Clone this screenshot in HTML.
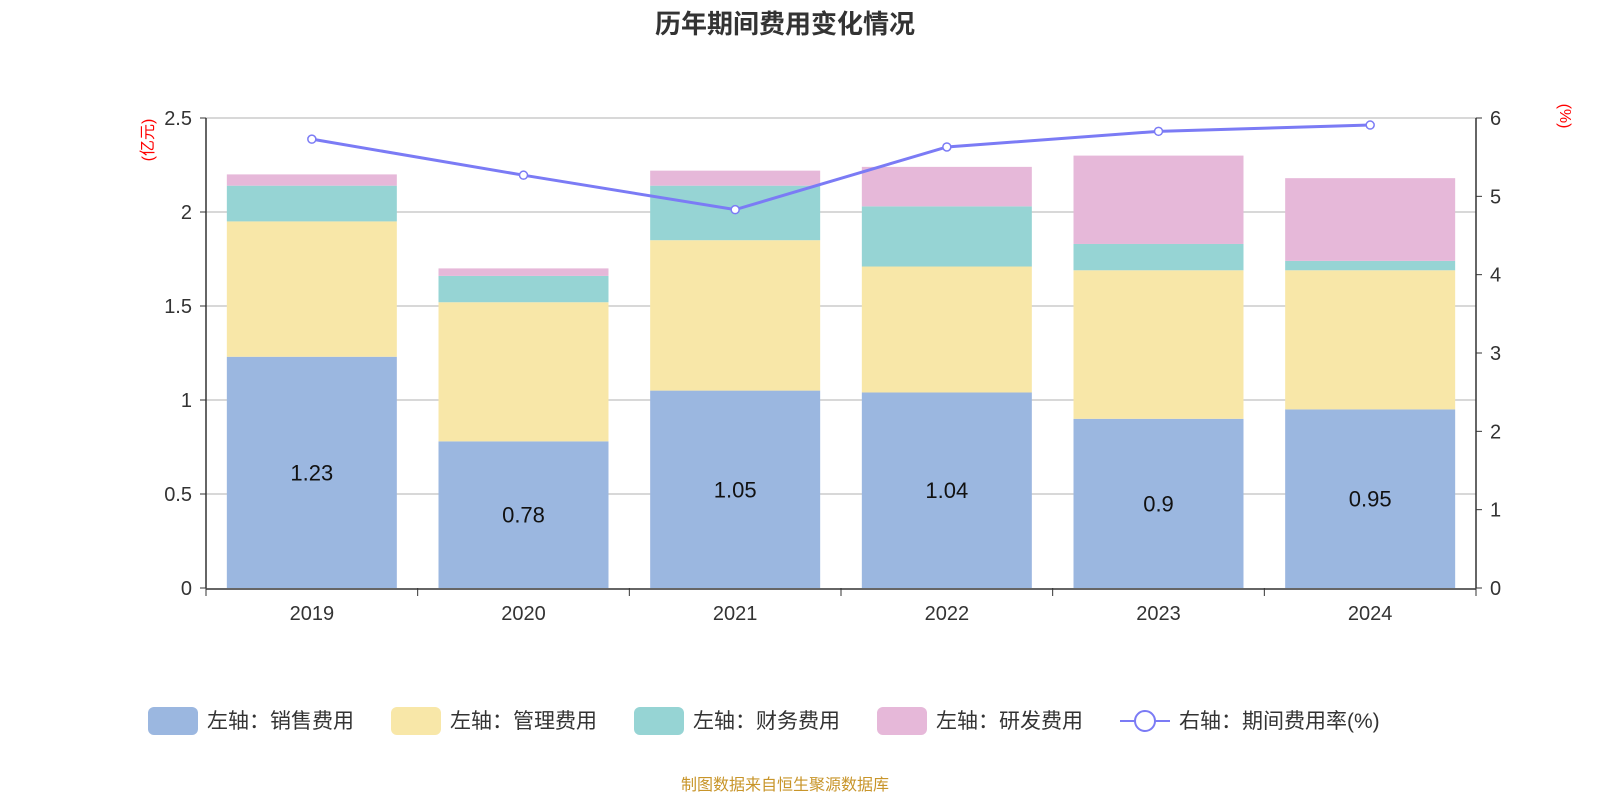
<!DOCTYPE html>
<html><head><meta charset="utf-8">
<style>
html,body{margin:0;padding:0;background:#fff;}
svg{display:block;font-family:"Liberation Sans","Noto Sans CJK SC",sans-serif;}
</style></head>
<body>
<svg id="chart" width="1600" height="800" viewBox="0 0 1600 800">
<text x="785" y="33" text-anchor="middle" font-size="26" font-weight="bold" fill="#333">历年期间费用变化情况</text>
<text transform="translate(153,140) rotate(-90)" text-anchor="middle" font-size="16" fill="red">(亿元)</text>
<text transform="translate(1560,116) rotate(90)" text-anchor="middle" font-size="16" fill="red">(%)</text>
<g id="grid"></g><g id="bars"></g><g id="axes"></g><g id="line"></g><g id="legend"></g>
<text x="785" y="790" text-anchor="middle" font-size="16" fill="#c8952a">制图数据来自恒生聚源数据库</text>
</svg>
<script>
const categories=["2019","2020","2021","2022","2023","2024"];
const sales=[1.23,0.78,1.05,1.04,0.9,0.95];
const admin=[0.72,0.74,0.80,0.67,0.79,0.74];
const finance=[0.19,0.14,0.29,0.32,0.14,0.05];
const rnd=[0.06,0.04,0.08,0.21,0.47,0.44];
const rate=[5.73,5.27,4.83,5.63,5.83,5.91];
const leftTicks=[0,0.5,1,1.5,2,2.5];
const rightTicks=[0,1,2,3,4,5,6];

const NS="http://www.w3.org/2000/svg";
const x0=206,x1=1476,yB=588,yT=118;
const bw=(x1-x0)/categories.length;
const yL=v=>yB-(v/2.5)*(yB-yT);
const yR=v=>yB-(v/6)*(yB-yT);
const xC=i=>x0+bw*(i+0.5);
function mk(tag,attrs,parent,txt){const e=document.createElementNS(NS,tag);for(const k in attrs)e.setAttribute(k,attrs[k]);if(txt!==undefined)e.textContent=txt;parent.appendChild(e);return e;}
const grid=document.getElementById('grid'),axes=document.getElementById('axes'),bars=document.getElementById('bars'),line=document.getElementById('line'),legend=document.getElementById('legend');

leftTicks.forEach(t=>{
 if(t>0){const g=mk('line',{x1:x0,x2:x1,y1:yL(t),y2:yL(t),stroke:'#ccc','stroke-width':1.5},grid);
 
 }
 const tl=mk('text',{x:x0-14,y:yL(t)+7,'text-anchor':'end','font-size':20,fill:'#333'},axes,String(t));
 
 
 mk('line',{x1:x0-6,x2:x0,y1:yL(t),y2:yL(t),stroke:'#333'},axes);
});
rightTicks.forEach(t=>{
 const tl=mk('text',{x:x1+14,y:yR(t)+7,'font-size':20,fill:'#333'},axes,String(t));
 
 
 mk('line',{x1:x1,x2:x1+6,y1:yR(t),y2:yR(t),stroke:'#333'},axes);
});
mk('line',{x1:x0,x2:x0,y1:yT,y2:yB,stroke:'#333','stroke-width':1.5},axes);
mk('line',{x1:x1,x2:x1,y1:yT,y2:yB,stroke:'#333','stroke-width':1.5},axes);
mk('line',{x1:x0,x2:x1,y1:yB+1,y2:yB+1,stroke:'#333','stroke-width':1.5},axes);
for(let i=0;i<=categories.length;i++) mk('line',{x1:x0+bw*i,x2:x0+bw*i,y1:yB,y2:yB+8,stroke:'#333'},axes);
categories.forEach((c,i)=>{
 const t=mk('text',{x:xC(i),y:yB+32,'text-anchor':'middle','font-size':20,fill:'#333'},axes,c);
 
 
});

const series=[[sales,'#9bb7e0','sales'],[admin,'#f8e7a8','admin'],[finance,'#96d4d4','finance'],[rnd,'#e6b8d9','rnd']];
const barW=170;
categories.forEach((c,i)=>{
 let base=0;
 series.forEach(([arr,col,nm])=>{
  const v=arr[i];
  const r=mk('rect',{x:xC(i)-barW/2,y:yL(base+v),width:barW,height:yL(base)-yL(base+v),fill:col},bars);
  
  
  base+=v;
 });
 const lb=mk('text',{x:xC(i),y:yL(sales[i]/2)+8,'text-anchor':'middle','font-size':22,fill:'#111'},bars,String(sales[i]));
 
 
});

const pts=rate.map((v,i)=>xC(i)+','+yR(v)).join(' ');
const pl=mk('polyline',{points:pts,fill:'none',stroke:'#7b7bf5','stroke-width':3},line);


rate.forEach((v,i)=>{
 const p=mk('circle',{cx:xC(i),cy:yR(v),r:4,fill:'#fff',stroke:'#7b7bf5','stroke-width':1.5},line);
 
 
});

const leg=[['#9bb7e0','左轴：销售费用',148],['#f8e7a8','左轴：管理费用',391],['#96d4d4','左轴：财务费用',634],['#e6b8d9','左轴：研发费用',877]];
leg.forEach(([col,txt,x])=>{
 const g=mk('g',{},legend);
 
 
 mk('rect',{x:x,y:707,width:50,height:28,rx:6,fill:col},g);
 mk('text',{x:x+59,y:728,'font-size':21,fill:'#333'},g,txt);
});
const lg=mk('g',{},legend);


mk('line',{x1:1120,x2:1170,y1:721,y2:721,stroke:'#7b7bf5','stroke-width':2},lg);
mk('circle',{cx:1145,cy:721,r:10,fill:'#fff',stroke:'#7b7bf5','stroke-width':2},lg);
mk('text',{x:1179,y:728,'font-size':21,fill:'#333'},lg,'右轴：期间费用率(%)');
</script>
</body></html>
